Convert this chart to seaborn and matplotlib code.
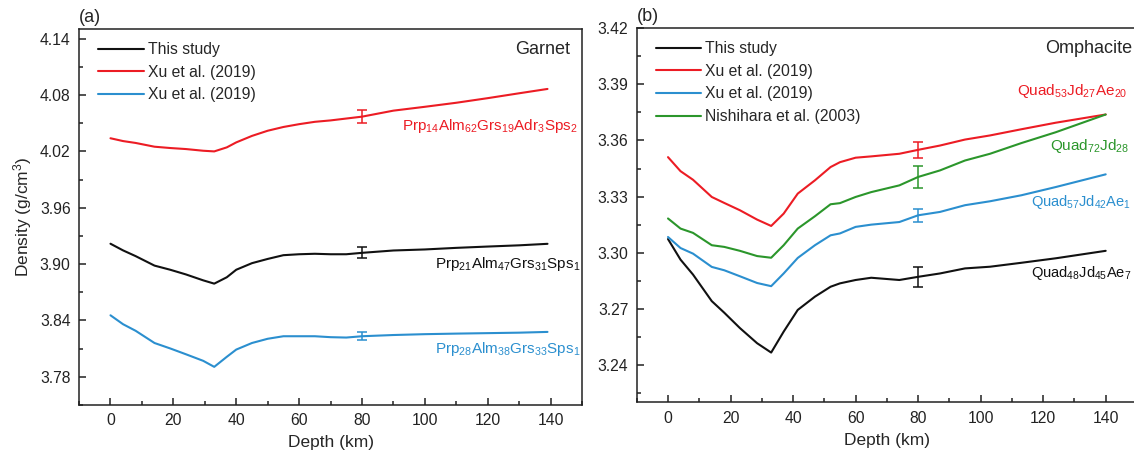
"""
Density vs depth profiles for garnet (a) and omphacite (b).
"""

import matplotlib
matplotlib.use("Agg")
import matplotlib.pyplot as plt
import seaborn as sns
from matplotlib.ticker import MultipleLocator, FormatStrFormatter

# ---- data ----
depth_a = [0, 4, 8, 14, 19, 24, 29.5, 33, 37, 40, 45, 50, 55, 60, 65, 70, 75, 80,
           90, 100, 110, 120, 130, 139]
garnet_this = [3.9217, 3.9146, 3.9085, 3.8984, 3.8940, 3.8890, 3.8827, 3.8792, 3.8860,
               3.8940, 3.9010, 3.9055, 3.9095, 3.9105, 3.9110, 3.9105, 3.9105, 3.9120,
               3.9145, 3.9156, 3.9173, 3.9187, 3.9200, 3.9216]
garnet_xu_red = [4.0340, 4.0310, 4.0290, 4.0250, 4.0236, 4.0225, 4.0207, 4.0200, 4.0243,
                 4.0296, 4.0365, 4.0420, 4.0460, 4.0490, 4.0515, 4.0530, 4.0550, 4.0570,
                 4.0634, 4.0675, 4.0718, 4.0767, 4.0819, 4.0865]
garnet_xu_blue = [3.8455, 3.8360, 3.8290, 3.8160, 3.8102, 3.8040, 3.7970, 3.7906, 3.8013,
                  3.8090, 3.8160, 3.8205, 3.8232, 3.8232, 3.8232, 3.8222, 3.8218, 3.8232,
                  3.8245, 3.8254, 3.8260, 3.8265, 3.8270, 3.8278]
garnet_err = [0.0058, 0.0070, 0.0044]  # this study, Xu red, Xu blue (at 80 km)

depth_b = [0, 4, 8, 14, 18, 23, 28.5, 33, 37, 41.5, 47, 52, 55, 60, 65, 74, 80, 87,
           95, 103, 113, 124, 140]
omph_this = [3.3073, 3.2963, 3.2883, 3.2741, 3.2679, 3.2597, 3.2516, 3.2466, 3.2578,
             3.2694, 3.2765, 3.2818, 3.2836, 3.2854, 3.2866, 3.2854, 3.2871, 3.2889,
             3.2916, 3.2925, 3.2946, 3.2970, 3.3010]
omph_xu_red = [3.3511, 3.3436, 3.3390, 3.3298, 3.3266, 3.3227, 3.3177, 3.3143, 3.3209,
               3.3316, 3.3387, 3.3458, 3.3484, 3.3508, 3.3515, 3.3529, 3.3550, 3.3573,
               3.3605, 3.3627, 3.3660, 3.3695, 3.3739]
omph_xu_blue = [3.3084, 3.3025, 3.2995, 3.2924, 3.2906, 3.2874, 3.2838, 3.2821, 3.2889,
                3.2972, 3.3040, 3.3093, 3.3103, 3.3138, 3.3150, 3.3164, 3.3200, 3.3218,
                3.3254, 3.3275, 3.3307, 3.3351, 3.3419]
omph_nish = [3.3183, 3.3129, 3.3106, 3.3040, 3.3031, 3.3010, 3.2982, 3.2973, 3.3040,
             3.3129, 3.3195, 3.3259, 3.3265, 3.3298, 3.3324, 3.3360, 3.3405, 3.3440,
             3.3493, 3.3529, 3.3586, 3.3644, 3.3739]
omph_err = [0.0055, 0.0044, 0.0036, 0.0057]  # this study, Xu red, Xu blue, Nishihara

LEGEND_A = ["This study", "Xu et al. (2019)", "Xu et al. (2019)"]
LEGEND_B = ["This study", "Xu et al. (2019)", "Xu et al. (2019)", "Nishihara et al. (2003)"]

BLACK, RED, BLUE, GREEN = "#111111", "#ec1c24", "#2b8fcf", "#2b962b"

sns.set_style("ticks")
plt.rcParams["font.family"] = ["Liberation Sans", "DejaVu Sans"]
plt.rcParams["mathtext.fontset"] = "custom"
plt.rcParams["mathtext.rm"] = "Liberation Sans"
plt.rcParams["mathtext.it"] = "Liberation Sans:italic"
plt.rcParams["mathtext.bf"] = "Liberation Sans:bold"

fig = plt.figure(figsize=(11.34, 4.63), dpi=100)
ax_a = fig.add_axes([0.0697, 0.1253, 0.4436, 0.8114])
ax_b = fig.add_axes([0.5615, 0.1311, 0.4411, 0.8078])


def draw_panel(ax, depth, series, colors, errs, names):
    handles = []
    i80 = depth.index(80)
    for vals, color, err, name in zip(series, colors, errs, names):
        sns.lineplot(x=depth, y=vals, color=color, lw=1.5, ax=ax)
        handles.append(ax.lines[-1])
        ax.errorbar(80, vals[i80], yerr=err, color=color, capsize=3.3,
                    elinewidth=1.1, capthick=1.1)
    ax.legend(handles, names, loc="upper left", bbox_to_anchor=(0.038, 0.966),
              frameon=False, borderaxespad=0, borderpad=0, handlelength=2.9,
              handletextpad=0.25, labelspacing=0.49, fontsize=11.3)

    ax.set_xlim(-10, 150)
    ax.xaxis.set_major_locator(MultipleLocator(20))
    ax.xaxis.set_minor_locator(MultipleLocator(10))
    ax.yaxis.set_major_formatter(FormatStrFormatter("%.2f"))
    ax.tick_params(which="major", direction="in", length=5, width=1.1,
                   top=False, right=False, labelsize=11.3, pad=6, colors="#222222")
    ax.tick_params(which="minor", direction="in", length=3, width=1.1,
                   top=False, right=False, colors="#222222")
    for sp in ax.spines.values():
        sp.set_visible(True)
        sp.set_linewidth(1.1)
        sp.set_color("#222222")
    ax.set_xlabel("Depth (km)", fontsize=12.5, labelpad=5)
    ax.set_ylabel("")


# (a) garnet
draw_panel(ax_a, depth_a, [garnet_this, garnet_xu_red, garnet_xu_blue],
           [BLACK, RED, BLUE], garnet_err, LEGEND_A)
ax_a.set_ylim(3.75, 4.15)
ax_a.yaxis.set_major_locator(MultipleLocator(0.06))
ax_a.yaxis.set_minor_locator(MultipleLocator(0.03))
ax_a.set_ylabel("Density (g/cm$^{3}$)", fontsize=12.5)
ax_a.text(0.976, 0.947, "Garnet", transform=ax_a.transAxes, ha="right", va="center", fontsize=13)
ax_a.text(0.0, 1.008, "(a)", transform=ax_a.transAxes, ha="left", va="bottom", fontsize=13)
ax_a.text(92.8, 4.047,
          r"Prp$_{\mathrm{14}}$Alm$_{\mathrm{62}}$Grs$_{\mathrm{19}}$Adr$_{\mathrm{3}}$Sps$_{\mathrm{2}}$",
          color=RED, ha="left", va="center", fontsize=11)
ax_a.text(103.2, 3.900, r"Prp$_{\mathrm{21}}$Alm$_{\mathrm{47}}$Grs$_{\mathrm{31}}$Sps$_{\mathrm{1}}$",
          color=BLACK, ha="left", va="center", fontsize=11)
ax_a.text(103.2, 3.810, r"Prp$_{\mathrm{28}}$Alm$_{\mathrm{38}}$Grs$_{\mathrm{33}}$Sps$_{\mathrm{1}}$",
          color=BLUE, ha="left", va="center", fontsize=11)

# (b) omphacite
draw_panel(ax_b, depth_b, [omph_this, omph_xu_red, omph_xu_blue, omph_nish],
           [BLACK, RED, BLUE, GREEN], omph_err, LEGEND_B)
ax_b.set_ylim(3.22, 3.42)
ax_b.yaxis.set_major_locator(MultipleLocator(0.03))
ax_b.yaxis.set_minor_locator(MultipleLocator(0.015))
ax_b.text(0.99, 0.947, "Omphacite", transform=ax_b.transAxes, ha="right", va="center", fontsize=13)
ax_b.text(0.0, 1.008, "(b)", transform=ax_b.transAxes, ha="left", va="bottom", fontsize=13)
ax_b.text(111.6, 3.3865, r"Quad$_{\mathrm{53}}$Jd$_{\mathrm{27}}$Ae$_{\mathrm{20}}$",
          color=RED, ha="left", va="center", fontsize=11)
ax_b.text(122.1, 3.3573, r"Quad$_{\mathrm{72}}$Jd$_{\mathrm{28}}$",
          color=GREEN, ha="left", va="center", fontsize=11)
ax_b.text(116.0, 3.3271, r"Quad$_{\mathrm{57}}$Jd$_{\mathrm{42}}$Ae$_{\mathrm{1}}$",
          color=BLUE, ha="left", va="center", fontsize=10.5)
ax_b.text(116.0, 3.2890, r"Quad$_{\mathrm{48}}$Jd$_{\mathrm{45}}$Ae$_{\mathrm{7}}$",
          color=BLACK, ha="left", va="center", fontsize=10.5)

fig.savefig("out.png", dpi=100)
